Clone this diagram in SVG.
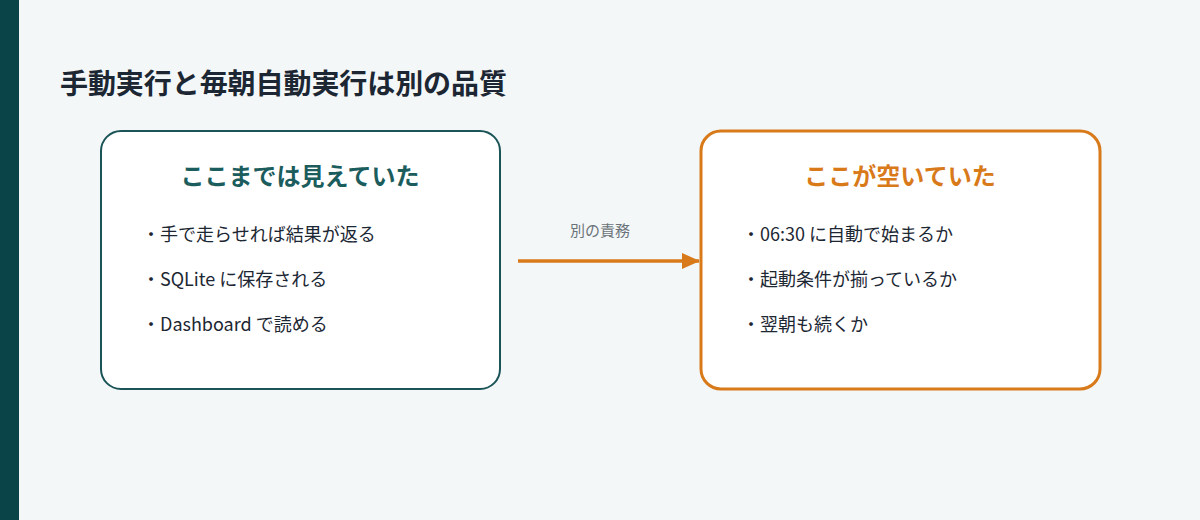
<svg xmlns="http://www.w3.org/2000/svg" width="1200" height="520" viewBox="0 0 1200 520">
<style>
text{font-family:"Noto Sans CJK JP","Noto Sans",sans-serif}
.t{font-size:28px;font-weight:bold;fill:#1c2733}
.h{font-size:24px;font-weight:bold;text-anchor:middle}
.i{font-size:18px;fill:#1c2733}
.l{font-size:15px;fill:#6b7378;text-anchor:middle}
</style>
<defs><marker id="a" markerWidth="18" markerHeight="18" refX="17" refY="8" orient="auto" markerUnits="userSpaceOnUse"><path d="M0,0 L18,8 L0,16 Z" fill="#d97a1a"/></marker></defs>
<rect width="1200" height="520" fill="#f3f7f8"/>
<rect width="19" height="520" fill="#0b4448"/>
<text class="t" x="60" y="94" textLength="447">手動実行と毎朝自動実行は別の品質</text>
<g id="seen">
<rect x="101" y="131" width="399" height="258" rx="20" fill="#fff" stroke="#1b5457" stroke-width="2"/>
<text class="h" x="300" y="185" fill="#1b5c5c">ここまでは見えていた</text>
<text class="i" x="142" y="241">・手で走らせれば結果が返る</text>
<text class="i" x="142" y="286">・SQLite に保存される</text>
<text class="i" x="142" y="331">・Dashboard で読める</text>
</g>
<g id="gap">
<rect x="701" y="131" width="399" height="258" rx="20" fill="#fff" stroke="#d97a1a" stroke-width="3"/>
<text class="h" x="900" y="185" fill="#d97a1a">ここが空いていた</text>
<text class="i" x="742" y="241">・06:30 に自動で始まるか</text>
<text class="i" x="742" y="286">・起動条件が揃っているか</text>
<text class="i" x="742" y="331">・翌朝も続くか</text>
</g>
<g id="connectors">
<line x1="518" y1="261" x2="699" y2="261" stroke="#d97a1a" stroke-width="3.5" marker-end="url(#a)"/>
<text class="l" x="600" y="236">別の責務</text>
</g>
</svg>
